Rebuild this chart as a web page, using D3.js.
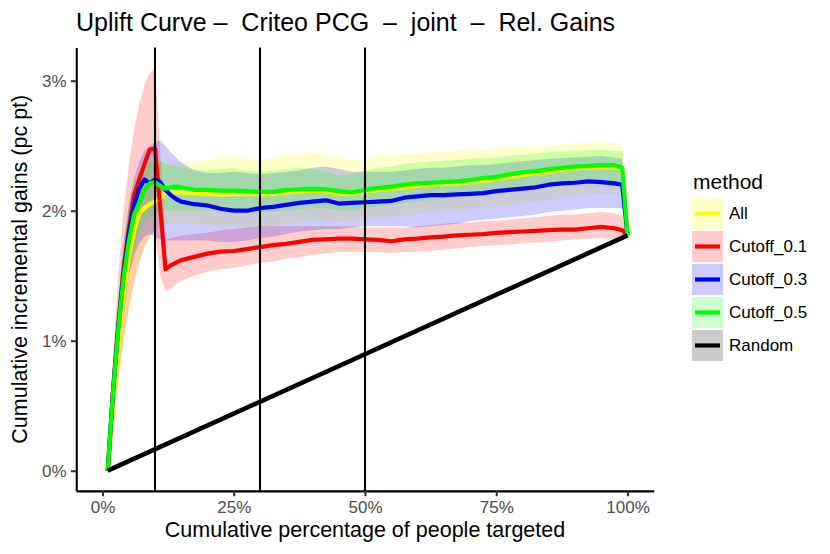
<!DOCTYPE html>
<html>
<head>
<meta charset="utf-8">
<script src="https://cdn.jsdelivr.net/npm/d3@7"></script>
<style>
body { margin: 0; background: #fff; }
text { font-family: "Liberation Sans", Arial, sans-serif; }
</style>
</head>
<body>
<script>

// x positions (cumulative % of people targeted)
var pct = [1,2,3,4,5,6,7,8,9,10,
  11,12,13,14,15,17.5,20,22.5,25,27.5,
  30,32.5,35,37.5,40,42.5,45,47.5,50,52.5,
  55,57.5,60,62.5,65,67.5,70,72.5,75,77.5,
  80,82.5,85,87.5,90,92.5,95,97.5,99,100];

// All
var allMean = [0,0.5,0.95,1.35,1.63,1.84,1.98,2.02,2.05,2.07,
  2.1,2.14,2.14,2.14,2.14,2.135,2.13,2.125,2.13,2.13,
  2.125,2.13,2.14,2.15,2.155,2.15,2.13,2.13,2.145,2.16,
  2.17,2.18,2.19,2.2,2.205,2.21,2.22,2.23,2.245,2.26,
  2.275,2.29,2.3,2.315,2.325,2.33,2.335,2.335,2.32,1.81];
var allLo = [0,0.3,0.65,0.95,1.2,1.42,1.6,1.72,1.8,1.85,
  1.88,1.9,1.9,1.9,1.9,1.9,1.89,1.88,1.88,1.87,
  1.87,1.88,1.9,1.91,1.92,1.92,1.91,1.92,1.93,1.94,
  1.95,1.96,1.97,1.98,1.99,2.0,2.01,2.02,2.03,2.04,
  2.06,2.07,2.08,2.1,2.11,2.12,2.13,2.13,2.12,1.81];
var allHi = [0,0.7,1.25,1.7,2.0,2.2,2.3,2.35,2.37,2.38,
  2.38,2.37,2.36,2.37,2.37,2.38,2.39,2.41,2.42,2.4,
  2.39,2.41,2.43,2.44,2.445,2.43,2.41,2.39,2.4,2.42,
  2.43,2.43,2.44,2.445,2.45,2.46,2.47,2.47,2.48,2.485,
  2.49,2.495,2.505,2.51,2.52,2.525,2.53,2.52,2.52,1.81];

// Cutoff_0.1
var cut01Mean = [0,0.62,1.12,1.55,1.85,2.12,2.24,2.36,2.47,2.48,
  2.02,1.55,1.58,1.6,1.62,1.645,1.67,1.685,1.69,1.705,
  1.72,1.735,1.745,1.76,1.775,1.78,1.785,1.785,1.78,1.775,
  1.765,1.78,1.785,1.795,1.8,1.81,1.815,1.82,1.83,1.835,
  1.84,1.845,1.85,1.855,1.855,1.865,1.875,1.865,1.85,1.81];
var cut01Lo = [0,0.35,0.7,1.0,1.25,1.45,1.6,1.72,1.8,1.85,
  1.5,1.38,1.4,1.43,1.46,1.5,1.53,1.55,1.56,1.58,
  1.6,1.61,1.63,1.64,1.66,1.67,1.68,1.685,1.685,1.68,
  1.675,1.68,1.685,1.69,1.7,1.71,1.72,1.73,1.735,1.74,
  1.75,1.755,1.76,1.77,1.78,1.785,1.79,1.78,1.77,1.81];
var cut01Hi = [0,0.85,1.5,2.0,2.35,2.62,2.82,2.97,3.06,3.1,
  2.45,1.78,1.79,1.8,1.81,1.82,1.83,1.85,1.86,1.87,
  1.88,1.88,1.88,1.88,1.88,1.88,1.88,1.88,1.87,1.87,
  1.87,1.87,1.88,1.89,1.9,1.91,1.91,1.92,1.92,1.93,
  1.94,1.95,1.96,1.97,1.97,1.98,1.99,1.98,1.96,1.81];

// Cutoff_0.3
var cut03Mean = [0,0.6,1.1,1.5,1.82,2.04,2.17,2.24,2.21,2.24,
  2.22,2.16,2.12,2.09,2.07,2.05,2.04,2.015,2.0,2.0,
  2.02,2.03,2.045,2.06,2.07,2.08,2.055,2.06,2.065,2.07,
  2.075,2.1,2.11,2.12,2.12,2.125,2.13,2.135,2.15,2.16,
  2.17,2.18,2.2,2.21,2.215,2.225,2.22,2.21,2.2,1.81];
var cut03Lo = [0,0.4,0.85,1.2,1.5,1.65,1.75,1.8,1.82,1.8,
  1.78,1.77,1.77,1.77,1.77,1.77,1.77,1.76,1.76,1.77,
  1.79,1.8,1.82,1.84,1.85,1.86,1.86,1.87,1.88,1.88,
  1.88,1.88,1.87,1.88,1.89,1.9,1.92,1.93,1.94,1.95,
  1.96,1.97,1.99,2.0,2.01,2.02,2.02,2.02,2.02,1.81];
var cut03Hi = [0,0.75,1.3,1.75,2.05,2.25,2.38,2.46,2.5,2.53,
  2.54,2.5,2.45,2.41,2.37,2.31,2.29,2.29,2.3,2.29,
  2.28,2.29,2.3,2.31,2.33,2.34,2.32,2.3,2.3,2.3,
  2.3,2.31,2.32,2.33,2.33,2.34,2.35,2.35,2.36,2.37,
  2.38,2.39,2.4,2.405,2.41,2.415,2.42,2.41,2.4,1.81];

// Cutoff_0.5
var cut05Mean = [0,0.6,1.08,1.48,1.76,1.97,2.06,2.16,2.21,2.22,
  2.19,2.17,2.18,2.185,2.18,2.16,2.16,2.155,2.155,2.15,
  2.145,2.145,2.16,2.165,2.17,2.165,2.15,2.14,2.16,2.175,
  2.185,2.2,2.21,2.215,2.22,2.225,2.235,2.25,2.26,2.28,
  2.295,2.305,2.32,2.33,2.34,2.345,2.35,2.35,2.33,1.81];
var cut05Lo = [0,0.4,0.85,1.2,1.5,1.7,1.82,1.9,1.95,1.98,
  1.99,2.0,2.0,2.0,2.0,2.0,2.0,1.99,1.99,1.98,
  1.98,1.99,2.0,2.01,2.02,2.02,2.0,2.0,2.02,2.03,
  2.04,2.06,2.07,2.08,2.09,2.1,2.11,2.12,2.13,2.15,
  2.16,2.17,2.19,2.2,2.21,2.22,2.23,2.23,2.22,1.81];
var cut05Hi = [0,0.75,1.3,1.75,2.05,2.22,2.3,2.36,2.38,2.4,
  2.38,2.36,2.35,2.34,2.33,2.32,2.31,2.32,2.33,2.31,
  2.3,2.31,2.32,2.33,2.32,2.3,2.27,2.28,2.31,2.33,
  2.34,2.36,2.37,2.38,2.385,2.39,2.4,2.405,2.41,2.42,
  2.43,2.44,2.45,2.455,2.46,2.465,2.47,2.46,2.46,1.81];

// Random
var randPct = [1, 100];
var randMean = [0, 1.81];

var methods = ["All", "Cutoff_0.1", "Cutoff_0.3", "Cutoff_0.5", "Random"];
var colors = ["#ffff00", "#ff0000", "#0000ff", "#00ff00", "#000000"];
var cutoffLines = [10, 30, 50];
var xTicks = [0, 25, 50, 75, 100];
var yTicks = [0, 1, 2, 3];

var W = 830, H = 554;
var x = d3.scaleLinear().domain([-5, 105]).range([76.25, 653.75]);
var y = d3.scaleLinear().domain([-0.155, 3.255]).range([490.85, 47.55]);

var series = [
  {name: "All", mean: allMean, lo: allLo, hi: allHi},
  {name: "Cutoff_0.1", mean: cut01Mean, lo: cut01Lo, hi: cut01Hi},
  {name: "Cutoff_0.3", mean: cut03Mean, lo: cut03Lo, hi: cut03Hi},
  {name: "Cutoff_0.5", mean: cut05Mean, lo: cut05Lo, hi: cut05Hi}
];
var color = d3.scaleOrdinal().domain(methods).range(colors);

var svg = d3.select("body").append("svg")
    .attr("width", W)
    .attr("height", H);

var area = d3.area()
    .x(function(d) { return x(d.p); })
    .y0(function(d) { return y(d.lo); })
    .y1(function(d) { return y(d.hi); });
var line = d3.line()
    .x(function(d) { return x(d.p); })
    .y(function(d) { return y(d.v); });

// ribbons
series.forEach(function(s) {
  var pts = pct.map(function(p, i) { return {p: p, lo: s.lo[i], hi: s.hi[i]}; });
  svg.append("path")
      .datum(pts)
      .attr("d", area)
      .attr("fill", color(s.name))
      .attr("fill-opacity", 0.2);
});

// lines
series.forEach(function(s) {
  var pts = pct.map(function(p, i) { return {p: p, v: s.mean[i]}; });
  svg.append("path")
      .datum(pts)
      .attr("d", line)
      .attr("fill", "none")
      .attr("stroke", color(s.name))
      .attr("stroke-width", 4.2)
      .attr("stroke-linejoin", "round");
});

svg.append("path")
    .datum(randPct.map(function(p, i) { return {p: p, v: randMean[i]}; }))
    .attr("d", line)
    .attr("fill", "none")
    .attr("stroke", color("Random"))
    .attr("stroke-width", 4.6);

// cutoff markers
svg.selectAll("line.cut").data(cutoffLines).enter().append("line")
    .attr("class", "cut")
    .attr("x1", function(d) { return x(d); })
    .attr("x2", function(d) { return x(d); })
    .attr("y1", y.range()[1])
    .attr("y2", y.range()[0])
    .attr("stroke", "#000")
    .attr("stroke-width", 2.1);

// axes
var yAxis = svg.append("g")
    .attr("transform", "translate(" + x.range()[0] + ",0)")
    .call(d3.axisLeft(y).tickValues(yTicks).tickFormat(function(d) { return d + "%"; })
      .tickSize(5.4).tickSizeOuter(0).tickPadding(4.3));
var xAxis = svg.append("g")
    .attr("transform", "translate(0," + y.range()[0] + ")")
    .call(d3.axisBottom(x).tickValues(xTicks).tickFormat(function(d) { return d + "%"; })
      .tickSize(5.4).tickSizeOuter(0).tickPadding(4.3));

[xAxis, yAxis].forEach(function(g) {
  g.attr("font-size", 17).attr("font-family", "Liberation Sans, Arial, sans-serif");
  g.select(".domain").attr("stroke", "#000").attr("stroke-width", 2.1);
  g.selectAll(".tick line").attr("stroke", "#333").attr("stroke-width", 2.1);
  g.selectAll(".tick text").attr("fill", "#4d4d4d");
});

// titles
svg.append("text")
    .attr("x", 76)
    .attr("y", 31)
    .attr("font-size", 25)
    .style("white-space", "pre")
    .text("Uplift Curve \u2013  Criteo PCG  \u2013  joint  \u2013  Rel. Gains");

svg.append("text")
    .attr("x", (x.range()[0] + x.range()[1]) / 2)
    .attr("y", 537)
    .attr("text-anchor", "middle")
    .attr("font-size", 21.5)
    .text("Cumulative percentage of people targeted");

svg.append("text")
    .attr("transform", "translate(27," + ((y.range()[0] + y.range()[1]) / 2) + ") rotate(-90)")
    .attr("text-anchor", "middle")
    .attr("font-size", 21.5)
    .text("Cumulative incremental gains (pc pt)");

// legend
var legend = svg.append("g").attr("transform", "translate(692,0)");
legend.append("text")
    .attr("x", 1)
    .attr("y", 189)
    .attr("font-size", 21)
    .text("method");

var keys = legend.selectAll("g.key").data(methods).enter().append("g")
    .attr("class", "key")
    .attr("transform", function(d, i) { return "translate(0," + (198 + i * 33) + ")"; });
keys.append("rect")
    .attr("width", 31)
    .attr("height", 31)
    .attr("fill", function(d) { return color(d); })
    .attr("fill-opacity", 0.2);
keys.append("line")
    .attr("x1", 3).attr("x2", 28)
    .attr("y1", 15.5).attr("y2", 15.5)
    .attr("stroke", function(d) { return color(d); })
    .attr("stroke-width", 4.2);
keys.append("text")
    .attr("x", 37)
    .attr("y", 15.5)
    .attr("dy", "0.35em")
    .attr("font-size", 17)
    .text(function(d) { return d; });

</script>
</body>
</html>
